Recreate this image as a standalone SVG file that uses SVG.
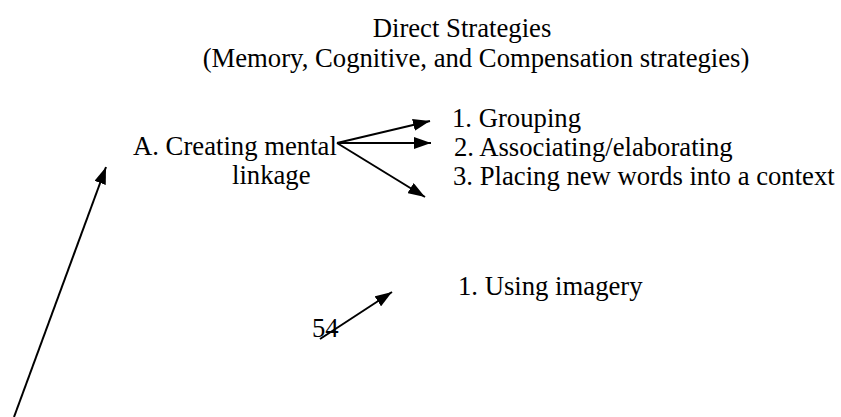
<svg xmlns="http://www.w3.org/2000/svg" width="841" height="417" viewBox="0 0 841 417">
<defs>
<style>
.t{font-family:"Liberation Serif","Times New Roman",serif;font-size:26.7px;fill:#000}
.c{stroke:#000;stroke-width:2;fill:none}
</style>
<marker id="ah" markerWidth="17" markerHeight="12" refX="17" refY="6" orient="auto" markerUnits="userSpaceOnUse">
<path d="M0,0 L17,6 L0,12 Z" fill="#000"/>
</marker>
</defs>
<rect width="841" height="417" fill="#fff"/>
<g id="title">
<text class="t" x="462" y="37" text-anchor="middle">Direct Strategies</text>
<text class="t" x="476" y="67" text-anchor="middle">(Memory, Cognitive, and Compensation strategies)</text>
</g>
<g id="nodeA">
<text class="t" x="133" y="155">A. Creating mental</text>
<text class="t" x="232" y="184">linkage</text>
</g>
<g id="item1"><text class="t" x="452" y="127">1. Grouping</text></g>
<g id="item2"><text class="t" x="454" y="156">2. Associating/elaborating</text></g>
<g id="item3"><text class="t" x="453" y="185">3. Placing new words into a context</text></g>
<g id="item4"><text class="t" x="458" y="295">1. Using imagery</text></g>
<g id="page"><text class="t" x="312" y="337">54</text></g>
<g id="connectors">
<line class="c" x1="337" y1="143" x2="430" y2="121" marker-end="url(#ah)"/>
<line class="c" x1="337" y1="143" x2="431" y2="143" marker-end="url(#ah)"/>
<line class="c" x1="337" y1="143" x2="425" y2="197" marker-end="url(#ah)"/>
<line class="c" x1="320" y1="339" x2="392" y2="292" marker-end="url(#ah)"/>
<line class="c" x1="14" y1="417" x2="106" y2="167" marker-end="url(#ah)"/>
</g>
</svg>
